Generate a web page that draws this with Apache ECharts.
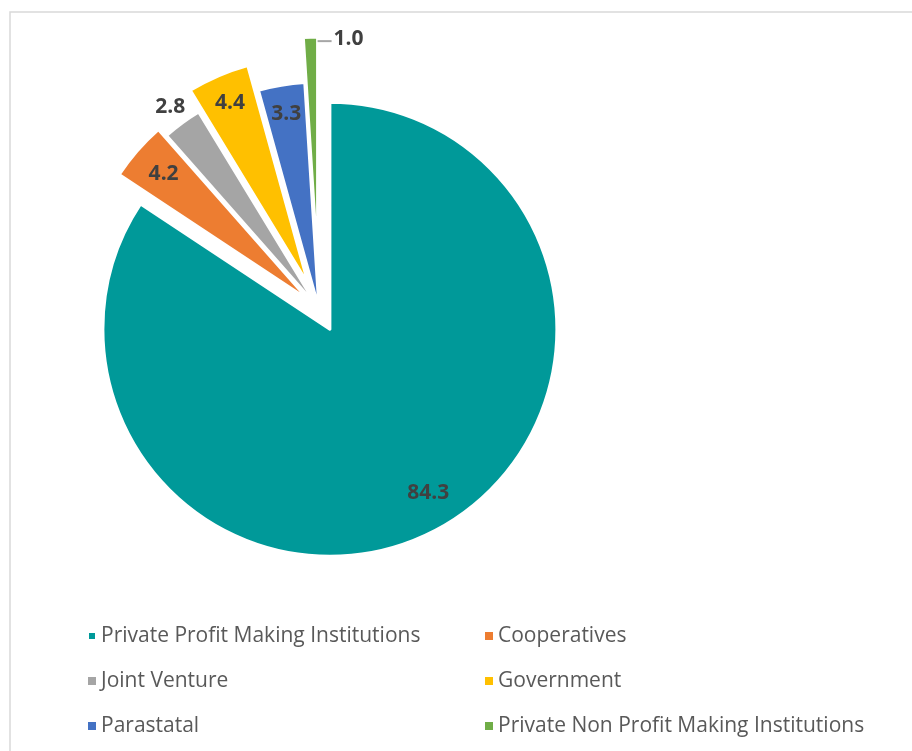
<!DOCTYPE html>
<html>
<head>
<meta charset="utf-8">
<script src="https://cdn.jsdelivr.net/npm/echarts@6/dist/echarts.min.js"></script>
<style>
  html, body { margin: 0; padding: 0; background: #fff; }
  #chart { width: 912px; height: 751px; }
</style>
</head>
<body>
<div id="chart"></div>
<script>
// ---- data ----
const categories = [
  'Private Profit Making Institutions',
  'Cooperatives',
  'Joint Venture',
  'Government',
  'Parastatal',
  'Private Non Profit Making Institutions'
];
const values = [84.3, 4.2, 2.8, 4.4, 3.3, 1.0];

// ---- style ----
const colors = ['#009999', '#ED7D31', '#A5A5A5', '#FFC000', '#4472C4', '#70AD47'];
const explode = [23, 14, 4, 27, 0, 45];           // slice pull-out (px)
const labelDist = [188, 189, 244, 194, 195, 220]; // label distance from slice tip (px)
const CENTER = [319, 309];
const RADIUS = 227;
const labelFont = { fontFamily: 'Open Sans', fontWeight: 'bold', fontSize: 21, color: '#404040' };

const series = [];
// visible slices, one series per slice so each has its own explosion
categories.forEach((cat, i) => {
  series.push({
    type: 'pie',
    center: CENTER,
    radius: [0, RADIUS],
    startAngle: 90,
    clockwise: true,
    selectedMode: 'multiple',
    selectedOffset: explode[i],
    silent: true,
    animation: false,
    label: { show: false },
    labelLine: { show: false },
    emphasis: { disabled: true },
    data: categories.map((c, j) => ({
      name: c,
      value: values[j],
      selected: j === i,
      itemStyle: j === i
        ? { color: colors[j], borderColor: '#ffffff', borderWidth: 3 }
        : { color: 'rgba(0,0,0,0)', borderWidth: 0 }
    }))
  });
});
// label carriers (transparent), sized so the inside label sits where Excel put it
categories.forEach((cat, i) => {
  const isGreen = i === 5;
  const isMain = i === 0;
  series.push({
    type: 'pie',
    center: CENTER,
    radius: [0, labelDist[i] * 2],
    startAngle: 90,
    clockwise: true,
    selectedMode: 'multiple',
    selectedOffset: explode[i],
    silent: true,
    animation: false,
    labelLine: { show: false },
    emphasis: { disabled: true },
    data: categories.map((c, j) => ({
      name: c,
      value: values[j],
      selected: j === i,
      itemStyle: { color: 'rgba(0,0,0,0)', borderWidth: 0 },
      label: j === i ? {
        show: true,
        position: 'inside',
        padding: isMain ? [0, 0, 8, 16] : 0,
        formatter: (p) => isGreen ? '{s|}{l|}{v|' + p.value.toFixed(1) + '}' : p.value.toFixed(1),
        ...labelFont,
        rich: {
          s: { width: 60, height: 2 },
          l: { width: 14, height: 2, backgroundColor: '#A6A6A6' },
          v: { ...labelFont, padding: [0, 0, 4, 2] }
        }
      } : { show: false }
    }))
  });
});

const legendText = { fontFamily: 'Open Sans', fontSize: 21, color: '#595959', lineHeight: 24 };
const mkLegend = (idxs, left) => ({
  orient: 'vertical',
  left: left,
  top: 619,
  itemWidth: 8,
  itemHeight: 8,
  itemGap: 21,
  icon: 'rect',
  selectedMode: false,
  textStyle: legendText,
  data: idxs.map(k => ({ name: categories[k], itemStyle: { color: colors[k] } }))
});

const chart = echarts.init(document.getElementById('chart'), null, { renderer: 'canvas' });
chart.setOption({
  backgroundColor: '#ffffff',
  animation: false,
  legend: [mkLegend([0, 2, 4], 82), mkLegend([1, 3, 5], 480)],
  graphic: [{
    type: 'rect',
    shape: { x: 10, y: 12, width: 960, height: 800 },
    style: { fill: 'none', stroke: '#D9D9D9', lineWidth: 1.5 },
    silent: true,
    z: -10
  }],
  series: series
});
</script>
</body>
</html>
